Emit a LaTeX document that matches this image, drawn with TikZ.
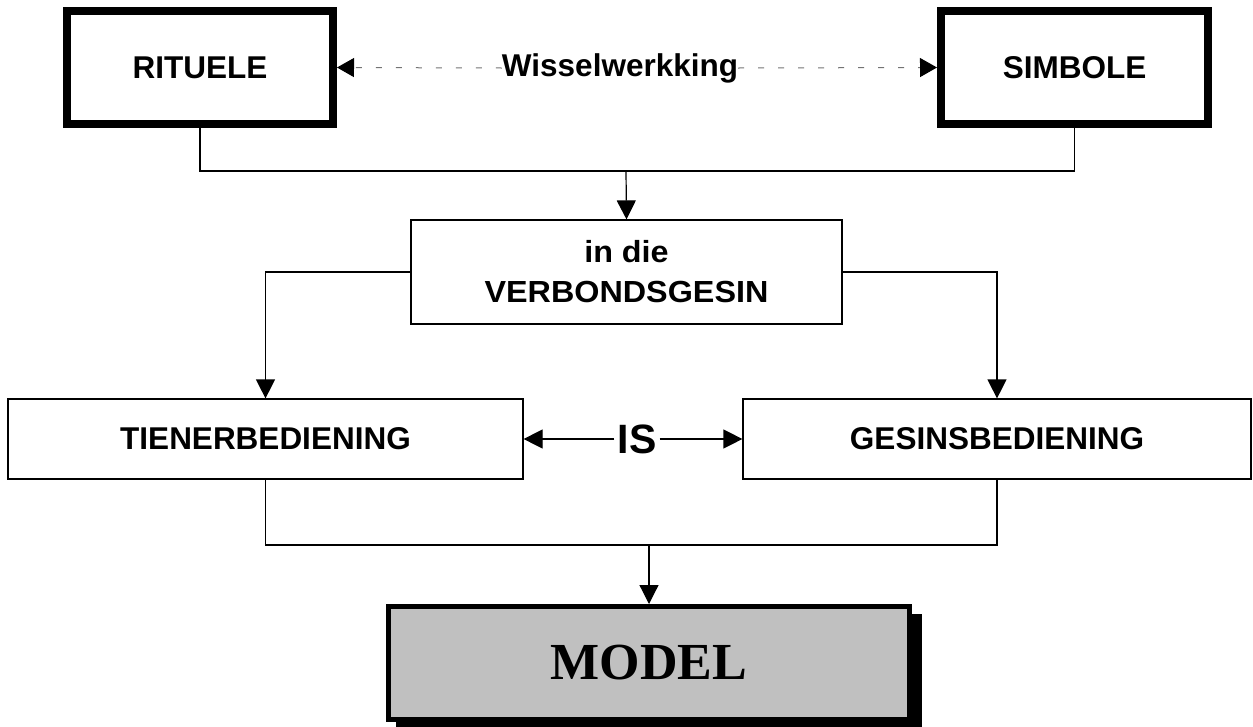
\documentclass[tikz,border=0pt]{standalone}
\usepackage{fontspec}
\setsansfont{Liberation Sans}
\newfontfamily\modelfont{Liberation Serif}
\usetikzlibrary{arrows.meta}
\tikzset{
  thickbox/.style={draw=black, line width=8pt, fill=white, inner sep=0pt,
    font=\sffamily\bfseries\fontsize{31.5}{38}\selectfont},
  thinbox/.style={draw=black, line width=1.2pt, fill=white, inner sep=0pt,
    font=\sffamily\bfseries\fontsize{31.5}{38}\selectfont},
  conn/.style={draw=black, line width=1.2pt},
  arr/.style={conn, -{Triangle[length=19pt,width=19pt]}},
  dotarr/.style={draw=black!55, line width=1pt, dash pattern=on 6pt off 14pt,
    -{Triangle[length=17pt,width=19pt,color=black]}},
  lbl/.style={inner sep=0pt, font=\sffamily\bfseries\fontsize{31.5}{38}\selectfont}
}
\begin{document}
\begin{tikzpicture}[x=1pt,y=-1pt]
\useasboundingbox (0,0) rectangle (1253,726);
\clip (0,0) rectangle (1253,726);
% boxes
\node[thickbox, minimum width=266pt, minimum height=113pt] (rit) at (200,67.5) {RITUELE};
\node[thickbox, minimum width=267pt, minimum height=113pt] (sim) at (1074.5,67.5) {SIMBOLE};
\node[thinbox, minimum width=431pt, minimum height=104pt, align=center,
  font=\sffamily\bfseries\fontsize{30.5}{40}\selectfont] (mid) at (626.5,272)
  {\scalebox{1.06}[1]{in die}\\\scalebox{1.06}[1]{VERBONDSGESIN}};
\node[thinbox, minimum width=515pt, minimum height=80pt] (tien) at (265.5,439) {TIENERBEDIENING};
\node[thinbox, minimum width=508pt, minimum height=80pt] (ges) at (997,439) {GESINSBEDIENING};
% model with shadow
\fill[black] (396,614) rectangle (922,740);
\node[draw=black, line width=5pt, fill={rgb,255:red,192;green,192;blue,192},
  minimum width=521pt, minimum height=113pt, inner sep=0pt,
  font=\modelfont\bfseries\fontsize{52}{60}\selectfont] (model) at (649,663) {MODEL};
% labels
\node[lbl] (wis) at (620,68) {Wisselwerkking};
\node[lbl, inner sep=3pt, font=\sffamily\bfseries\fontsize{41}{48}\selectfont] (is) at (637,439) {IS};
% connectors
\draw[dotarr] (wis.west) -- (rit.east);
\draw[dotarr] (wis.east) -- (sim.west);
\coordinate (top) at (626,171);
\draw[conn] (rit.south) |- (top) -| (sim.south);
\draw[arr] (top) -- (mid.north);
\draw[arr] (mid.west) -| (tien.north);
\draw[arr] (mid.east) -| (ges.north);
\draw[arr] (is.west) -- (tien.east);
\draw[arr] (is.east) -- (ges.west);
\coordinate (bot) at (649,545);
\draw[conn] (tien.south) |- (bot) -| (ges.south);
\draw[arr] (bot) -- (model.north);
\end{tikzpicture}
\end{document}
